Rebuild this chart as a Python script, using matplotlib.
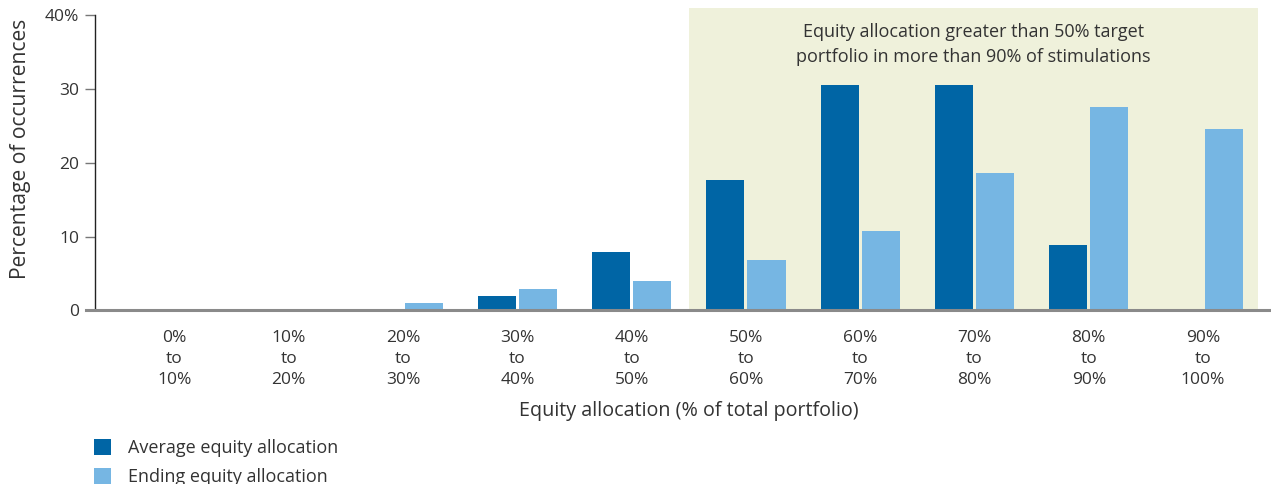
import matplotlib
matplotlib.use("Agg")
import matplotlib.pyplot as plt
import numpy as np

# data
categories = ["0%\nto\n10%", "10%\nto\n20%", "20%\nto\n30%", "30%\nto\n40%", "40%\nto\n50%",
              "50%\nto\n60%", "60%\nto\n70%", "70%\nto\n80%", "80%\nto\n90%", "90%\nto\n100%"]
average_alloc = [0, 0, 0, 2.0, 7.9, 17.7, 30.5, 30.5, 8.9, 0]
ending_alloc = [0, 0, 1.0, 2.9, 4.0, 6.8, 10.8, 18.6, 27.5, 24.6]
y_ticks = [0, 10, 20, 30, 40]
y_tick_labels = ["0", "10", "20", "30", "40%"]

dark_blue = "#0065A5"
light_blue = "#76B6E3"
shade = "#EFF1DB"
text_col = "#333333"

plt.rcParams["font.family"] = ["Open Sans", "DejaVu Sans"]

fig = plt.figure(figsize=(12.71, 4.84), dpi=100)
ax = fig.add_axes([0.0747, 0.3585, 0.915, 0.626])

x = np.arange(len(categories))
w = 0.333
ax.axvspan(4.5, 9.48, ymin=0, ymax=1, color=shade, lw=0, zorder=0)
ax.bar(x - 0.18, average_alloc, width=w, color=dark_blue, zorder=2, label="Average equity allocation")
ax.bar(x + 0.18, ending_alloc, width=w, color=light_blue, zorder=2, label="Ending equity allocation")

ax.set_xlim(-0.696, 9.48)
ax.set_ylim(0, 41)

for s in ["top", "right"]:
    ax.spines[s].set_visible(False)
ax.spines["bottom"].set_visible(False)
ax.spines["left"].set_bounds(0, 40)
ax.spines["left"].set_color("#222222")
ax.spines["left"].set_linewidth(1.0)
# gray baseline extended past the axes
ax.plot([-0.008, 1.01], [0, 0], transform=ax.get_yaxis_transform(), color="#8a8a8a",
        lw=2.2, clip_on=False, zorder=3)

ax.set_yticks(y_ticks)
ax.set_yticklabels(y_tick_labels)
ax.tick_params(axis="y", length=7.2, width=1, color="#777777", pad=4, labelsize=12.5, labelcolor=text_col)
ax.set_xticks(x)
ax.set_xticklabels(categories, linespacing=1.42)
ax.tick_params(axis="x", length=0, pad=14, labelsize=12.5, labelcolor=text_col)

ax.text(4.5, -13.6, "Equity allocation (% of total portfolio)", ha="center", va="center",
        fontsize=14.2, color=text_col)
ax.text(-0.064, 0.535, "Percentage of occurrences", rotation=90, ha="center", va="center",
        transform=ax.transAxes, fontsize=15.2, color=text_col)
ax.text(6.99, 36.0, "Equity allocation greater than 50% target\nportfolio in more than 90% of stimulations",
        ha="center", va="center", fontsize=13, color=text_col, linespacing=1.45)

fig.legend(loc="upper left", bbox_to_anchor=(0.074, 0.092), frameon=False,
           handlelength=0.95, handleheight=0.95, handletextpad=0.95, labelspacing=0.6,
           fontsize=13, labelcolor=text_col, borderaxespad=0, borderpad=0)

fig.savefig("out.png", dpi=100)
